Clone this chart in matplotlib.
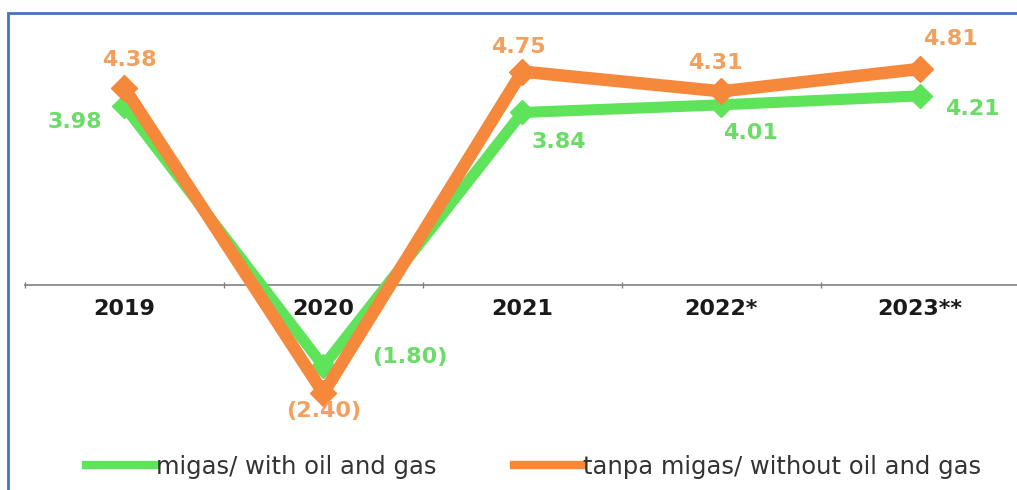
import matplotlib.pyplot as plt
from matplotlib.patches import Rectangle

# ── data ─────────────────────────────────────────────
years = ["2019", "2020", "2021", "2022*", "2023**"]
with_oil_gas = [3.98, -1.80, 3.84, 4.01, 4.21]
without_oil_gas = [4.38, -2.40, 4.75, 4.31, 4.81]
labels_with = ["3.98", "(1.80)", "3.84", "4.01", "4.21"]
labels_without = ["4.38", "(2.40)", "4.75", "4.31", "4.81"]

GREEN = "#5ee35a"
ORANGE = "#f5883a"
GREEN_TXT = "#6cdc68"
ORANGE_TXT = "#f2a05c"
BLUE = "#4472c4"

fig = plt.figure(figsize=(10.17, 4.90), dpi=100, facecolor="white")
ax = fig.add_axes([0.0246, 0.1224, 0.978, 0.816])
ax.set_xlim(-0.5, 4.5)
ax.set_ylim(-3.22, 5.67)

x = list(range(len(years)))
ax.plot(x, with_oil_gas, color=GREEN, lw=8, marker="D", markersize=12,
        solid_joinstyle="miter", zorder=3, label="migas/ with oil and gas")
ax.plot(x, without_oil_gas, color=ORANGE, lw=9, marker="D", markersize=13,
        solid_joinstyle="miter", zorder=4, label="tanpa migas/ without oil and gas")

# value labels (offsets in pixels)
off_with = [(-50, -16), (86, 9), (37, -30), (29, -28), (52, -13)]
off_without = [(5, 28), (0, -18), (-4, 25), (-6, 28), (30, 30)]
for i in x:
    ax.annotate(labels_with[i], (i, with_oil_gas[i]), xytext=off_with[i],
                textcoords="offset pixels", ha="center", va="center",
                color=GREEN_TXT, fontsize=16, fontweight="bold", zorder=5)
    ax.annotate(labels_without[i], (i, without_oil_gas[i]), xytext=off_without[i],
                textcoords="offset pixels", ha="center", va="center",
                color=ORANGE_TXT, fontsize=16, fontweight="bold", zorder=5)

# axis styling
for s in ["top", "right", "left"]:
    ax.spines[s].set_visible(False)
ax.spines["bottom"].set_position(("data", 0))
ax.spines["bottom"].set_color("#808080")
ax.spines["bottom"].set_linewidth(1.2)
ax.set_yticks([])
ax.set_xticks(x)
ax.set_xticklabels(years, fontsize=16, fontweight="bold", color="#1a1a1a")
ax.tick_params(axis="x", which="major", length=0, pad=10)
ax.set_xticks([-0.5, 0.5, 1.5, 2.5, 3.5], minor=True)
ax.tick_params(axis="x", which="minor", length=5, direction="inout",
               color="#808080", width=1)

fig.legend(loc="center", bbox_to_anchor=(0.525, 0.047), ncol=2, frameon=False,
           fontsize=17.5, handlelength=2.8, handletextpad=0.05, columnspacing=3.2,
           labelcolor="#333333")
for h in fig.legends[0].legend_handles:
    h.set_marker("")
    h.set_linewidth(6)

# blue frame
fig.patches.append(Rectangle((8 / 1017, -0.1), 1.1, 1.1 - 13 / 490,
                             transform=fig.transFigure, fill=False,
                             edgecolor=BLUE, lw=2))

fig.savefig("out.png", dpi=100, facecolor="white")
